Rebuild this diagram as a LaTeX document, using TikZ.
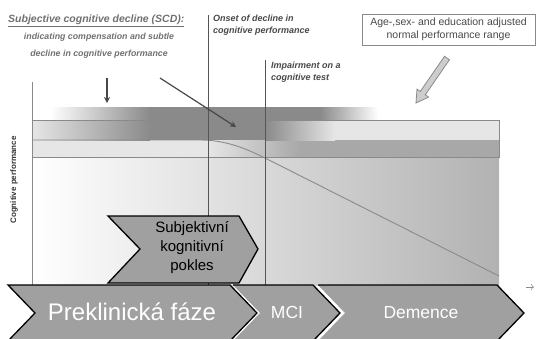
\documentclass[tikz,border=0pt]{standalone}
\usepackage{fontspec}
\setmainfont{Liberation Sans}
\usetikzlibrary{shapes,arrows,arrows.meta,positioning,calc}

\definecolor{titlegray}{RGB}{112,112,112}
\definecolor{notegray}{RGB}{72,72,72}
\definecolor{linegray}{RGB}{85,85,85}
\definecolor{boxgray}{RGB}{138,138,138}
\definecolor{rangelight}{RGB}{230,230,230}
\definecolor{rangedark}{RGB}{168,168,168}
\definecolor{lowgray}{RGB}{178,178,178}
\definecolor{scdgray}{RGB}{138,138,138}
\definecolor{phasegray}{RGB}{160,160,160}
\definecolor{arrowfill}{RGB}{205,205,205}

\pgfdeclarehorizontalshading{lowfade}{100bp}{color(0bp)=(white); color(25bp)=(white); color(75bp)=(lowgray); color(100bp)=(lowgray)}
\pgfdeclarehorizontalshading{rangefade}{100bp}{color(0bp)=(rangelight); color(25bp)=(rangelight); color(75bp)=(rangedark); color(100bp)=(rangedark)}
\pgfdeclarehorizontalshading{scdin}{100bp}{color(0bp)=(white); color(25bp)=(white); color(75bp)=(scdgray); color(100bp)=(scdgray)}
\pgfdeclarehorizontalshading{scdinlight}{100bp}{color(0bp)=(rangelight); color(25bp)=(rangelight); color(75bp)=(scdgray); color(100bp)=(scdgray)}
\pgfdeclarehorizontalshading{scdout}{100bp}{color(0bp)=(scdgray); color(25bp)=(scdgray); color(75bp)=(white); color(100bp)=(white)}
\pgfdeclarehorizontalshading{scdoutlight}{100bp}{color(0bp)=(scdgray); color(25bp)=(scdgray); color(75bp)=(rangelight); color(100bp)=(rangelight)}

\begin{document}
\begin{tikzpicture}[x=1pt, y=-1pt,
  note/.style={font=\bfseries\itshape\fontsize{9}{11.5}\selectfont, text=notegray, align=left, inner sep=0pt, anchor=north west},
  marker/.style={draw=linegray, line width=0.9pt},
  pointer/.style={draw=notegray, line width=1.2pt, -{Stealth[length=6pt, width=6pt]}},
  phaseline/.style={draw=black, line width=1.3pt, line join=miter},
  phasetext/.style={text=white, inner sep=0pt}]

\useasboundingbox (0,0) rectangle (536,338);

% background areas
\shade[shading=lowfade] (32,157) rectangle (499,285);
\fill[rangelight] (32,120) rectangle (499,157);
\shade[shading=rangefade] (208,140) rectangle (300,157);
\fill[rangedark] (300,140) rectangle (499,157);

% SCD band
\shade[shading=scdin] (50,107) rectangle (150,120);
\shade[shading=scdinlight] (32,120) rectangle (150,140);
\fill[scdgray] (150,107) rectangle (320,120);
\fill[scdgray] (150,120) rectangle (265,140);
\shade[shading=scdout] (320,107) rectangle (378,120);
\shade[shading=scdoutlight] (265,120) rectangle (335,140);

% normal range and curve
\draw[boxgray, line width=0.8pt] (32,120) rectangle (499,157);
\draw[boxgray, line width=0.9pt] (32,140) -- (200,140) .. controls (225,140) and (245,148) .. (265,158) -- (499,276);
\draw[boxgray, line width=0.8pt] (32,82) -- (32,285);
\draw[marker] (208,15) -- (208,285);
\draw[marker] (265,60) -- (265,285);

% texts
\node[font=\bfseries\itshape\fontsize{10.5}{12}\selectfont, text=titlegray, inner sep=0pt, anchor=north west] (scdtitle) at (8,15) {\underline{Subjective cognitive decline (SCD):}};
\node[font=\bfseries\itshape\fontsize{8.8}{17}\selectfont, text=titlegray, align=center] (scdnote) at (99,46) {indicating compensation and subtle\\decline in cognitive performance};
\node[note] (onset) at (213,15) {Onset of decline in\\cognitive performance};
\node[note] (impairment) at (271,62) {Impairment on a\\cognitive test};
\node[draw=boxgray, line width=0.8pt, minimum width=173pt, minimum height=31pt, align=center, text=notegray, font=\fontsize{10.5}{13}\selectfont, inner sep=0pt] (rangebox) at (448.5,29.5) {Age-,sex- and education adjusted\\normal performance range};
\node[rotate=90, font=\bfseries\fontsize{8}{9}\selectfont, text=black!80] (ylabel) at (14,180) {Cognitive performance};

% arrows
\coordinate (scdstart) at (107,78);
\coordinate (scdend) at (107,103);
\coordinate (onsetstart) at (160,78);
\coordinate (onsetend) at (236,127);
\draw[pointer] (scdstart) -- (scdend);
\draw[pointer] (onsetstart) -- (onsetend);
\filldraw[draw=boxgray, fill=arrowfill, line width=0.8pt, line join=miter] (449.5,59.7) -- (425.3,94.8) -- (428.6,97.1) -- (416,103) -- (417,89.1) -- (420.3,91.4) -- (444.5,56.3) -- cycle;

% phases
\fill[phasegray] (108,216) -- (239,216) -- (258,249) -- (239,283) -- (108,283) -- (140,249) -- cycle;
\draw[phaseline] (108,216) -- (239,216) -- (258,249) -- (239,283) -- (108,283) -- (140,249) -- cycle;
\node[align=center, font=\fontsize{15}{19}\selectfont, inner sep=0pt] (scdphase) at (192,248) {Subjektivní\\kognitivní\\pokles};

\fill[phasegray] (8,285) -- (230,285) -- (257,313) -- (230,341) -- (8,341) -- (35,313) -- cycle;
\draw[phaseline] (8,285) -- (230,285) -- (257,313) -- (230,341) -- (8,341) -- (35,313) -- cycle;
\fill[phasegray] (233,285) -- (313,285) -- (340,313) -- (313,341) -- (233,341) -- (260,313) -- cycle;
\draw[phaseline] (233,285) -- (313,285) -- (340,313) -- (313,341);
\fill[phasegray] (318,285) -- (497,285) -- (524,313) -- (497,341) -- (318,341) -- (345,313) -- cycle;
\draw[phaseline] (318,285) -- (497,285) -- (524,313) -- (497,341);

\node[phasetext, font=\fontsize{24}{26}\selectfont] (preclinical) at (132,312) {Preklinická fáze};
\node[phasetext, font=\fontsize{17.5}{20}\selectfont] (mci) at (287,312) {MCI};
\node[phasetext, font=\fontsize{17.5}{20}\selectfont] (dementia) at (421,313) {Demence};

% axis tip
\coordinate (axisstart) at (526,287);
\coordinate (axisend) at (534,287);
\draw[boxgray, line width=0.6pt, -{To[length=3pt]}] (axisstart) -- (axisend);

\end{tikzpicture}
\end{document}
